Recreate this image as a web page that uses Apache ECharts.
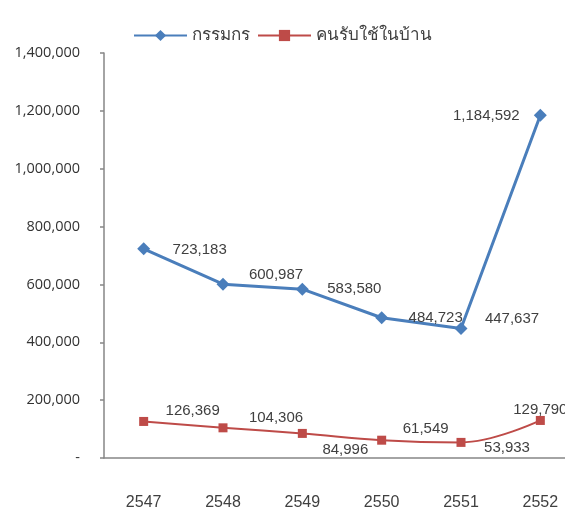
<!DOCTYPE html>
<html>
<head>
<meta charset="utf-8">
<script src="https://cdn.jsdelivr.net/npm/echarts@6/dist/echarts.min.js"></script>
<style>
	html, body { margin: 0; padding: 0; background: #fff; }
	#wrap { width: 565px; height: 512px; overflow: hidden; }
	#chart { width: 582px; height: 512px; }
</style>
</head>
<body>
<div id="wrap"><div id="chart"></div></div>
<script>
	// ข้อมูล
	var years = ['2547', '2548', '2549', '2550', '2551', '2552']
	var workers = [723183, 600987, 583580, 484723, 447637, 1184592]      // กรรมกร
	var maids = [126369, 104306, 84996, 61549, 53933, 129790]            // คนรับใช้ในบ้าน
	var yTicks = [0, 200000, 400000, 600000, 800000, 1000000, 1200000, 1400000]

	// label offsets from point (px)
	var workerOffsets = [[56, 1], [53, -9], [52, 0], [54, 0], [51, -10], [-54, 1]]
	var maidOffsets = [[49, -11], [53, -10], [43, 16], [44, -11], [46, 5], [0, -11]]

	function fmt (v) {
		return v === 0 ? '-' : v.toLocaleString('en-US')
	}

	function buildData (values, offsets) {
		return values.map(function (v, i) {
			return { value: v, label: { offset: offsets[i] } }
		})
	}

	var labelOption = {
		show: true,
		position: 'inside',
		fontSize: 15,
		color: '#404040',
		fontFamily: 'Liberation Sans, Arial, sans-serif',
		formatter: function (p) { return fmt(p.value) }
	}

	var chart = echarts.init(document.getElementById('chart'))
	var option = {
		animation: false,
		legend: {
			left: 128,
			top: 22,
			itemWidth: 53,
			itemHeight: 14,
			itemGap: 7,
			textStyle: { fontSize: 17, color: '#404040' },
			data: ['กรรมกร', 'คนรับใช้ในบ้าน']
		},
		grid: { left: 104, top: 53, width: 476, height: 405 },
		xAxis: {
			type: 'category',
			data: years,
			boundaryGap: true,
			axisLine: { lineStyle: { color: '#868686', width: 1.5 } },
			axisTick: { length: 6, lineStyle: { color: '#868686', width: 1.5 } },
			axisLabel: { margin: 37, fontSize: 16, color: '#404040', fontFamily: 'Liberation Sans, Arial, sans-serif' },
			splitLine: { show: false }
		},
		yAxis: {
			type: 'value',
			min: yTicks[0],
			max: yTicks[yTicks.length - 1],
			interval: yTicks[1] - yTicks[0],
			axisLine: { show: true, lineStyle: { color: '#868686', width: 1.5 } },
			axisTick: { show: true, length: 4, lineStyle: { color: '#868686', width: 1.5 } },
			axisLabel: { margin: 24, fontSize: 14.5, color: '#333', fontFamily: 'Open Sans, sans-serif', formatter: fmt },
			splitLine: { show: false }
		},
		series: [
			{
				name: 'กรรมกร',
				type: 'line',
				data: buildData(workers, workerOffsets),
				color: '#4A7EBB',
				lineStyle: { width: 3 },
				symbol: 'diamond',
				symbolSize: 13,
				label: labelOption
			},
			{
				name: 'คนรับใช้ในบ้าน',
				type: 'line',
				data: buildData(maids, maidOffsets),
				color: '#BE4B48',
				lineStyle: { width: 2 },
				smooth: 0.4,
				symbol: 'rect',
				symbolSize: 9,
				label: labelOption
			}
		]
	}
	chart.setOption(option)
</script>
</body>
</html>
